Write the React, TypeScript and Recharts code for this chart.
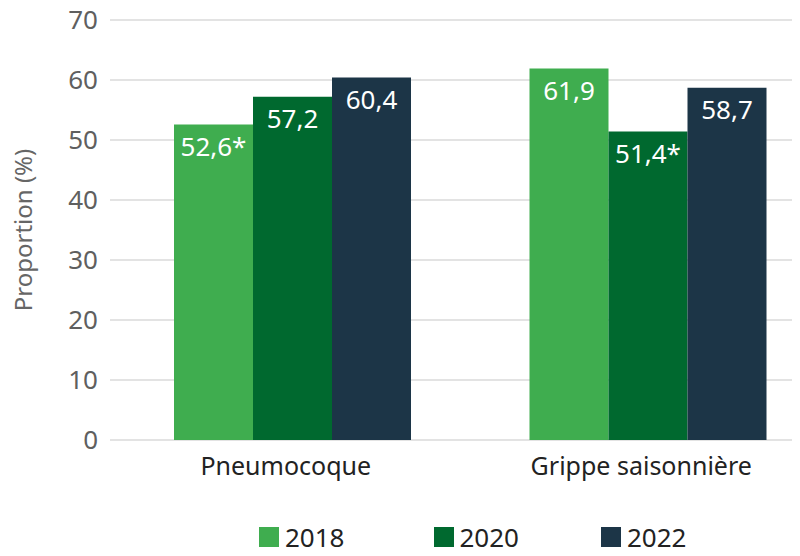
import { BarChart, Bar, XAxis, YAxis, CartesianGrid, Legend, LabelList, Label } from 'recharts'

const categories = ['Pneumocoque', 'Grippe saisonnière']
const years = ['2018', '2020', '2022']
const values2018 = [52.6, 61.9]
const values2020 = [57.2, 51.4]
const values2022 = [60.4, 58.7]
// significance mark (*) shown next to the value
const flags2018 = [true, false]
const flags2020 = [false, true]
const flags2022 = [false, false]
const yTicks = [0, 10, 20, 30, 40, 50, 60, 70]

const colors = ['#3fad4f', '#00692f', '#1c3547']
const font = '"Noto Sans", "Open Sans", sans-serif'

const fmt = (v: number, star: boolean) => v.toFixed(1).replace('.', ',') + (star ? '*' : '')

const chartData = categories.map((name, i) => ({
  name,
  y2018: values2018[i],
  y2020: values2020[i],
  y2022: values2022[i],
  l2018: fmt(values2018[i], flags2018[i]),
  l2020: fmt(values2020[i], flags2020[i]),
  l2022: fmt(values2022[i], flags2022[i]),
}))

function LegendContent({ payload }: any) {
  return (
    <div style={{ display: 'flex', alignItems: 'center', height: 26, fontFamily: font }}>
      {(payload || []).map((entry: any, i: number) => (
        <div key={entry.value} style={{ display: 'flex', alignItems: 'center', marginRight: i === 0 ? 89 : 82 }}>
          <span style={{ width: 20, height: 20, background: entry.color, display: 'inline-block', marginRight: 6 }} />
          <span style={{ fontSize: 26, color: '#222', lineHeight: '26px' }}>{entry.value}</span>
        </div>
      ))}
    </div>
  )
}

export default function App() {
  return (
    <div style={{ margin: -8, width: 800, height: 556, overflow: 'hidden', background: '#fff' }}>
      <BarChart
        width={825}
        height={556}
        data={chartData}
        margin={{ top: 20, right: 0, bottom: 60, left: 0 }}
        barCategoryGap={60}
        barGap={0}
      >
        <CartesianGrid vertical={false} stroke="#e3e3e3" strokeWidth={2} />
        <XAxis
          dataKey="name"
          axisLine={false}
          tickLine={false}
          tickMargin={11}
          padding={{ left: 4, right: 0 }}
          dx={-6}
          tick={{ fill: '#222', fontSize: 25, fontFamily: font }}
        />
        <YAxis
          width={110}
          domain={[0, 70]}
          ticks={yTicks}
          axisLine={false}
          tickLine={false}
          tickMargin={6}
          tick={{ fill: '#5f5f5f', fontSize: 26, fontFamily: font }}
        >
          <Label
            content={() => (
              <text
                transform="translate(32,230) rotate(-90)"
                textAnchor="middle"
                fill="#666"
                fontSize={24}
                fontFamily={font}
              >
                Proportion (%)
              </text>
            )}
          />
        </YAxis>
        <Legend
          content={<LegendContent />}
          wrapperStyle={{ left: 259, top: 524, bottom: 'auto', width: 'auto' }}
        />
        <Bar dataKey="y2018" name={years[0]} fill={colors[0]} isAnimationActive={false}>
          <LabelList dataKey="l2018" position="insideTop" offset={13} fill="#fff" fontSize={26} fontFamily={font} />
        </Bar>
        <Bar dataKey="y2020" name={years[1]} fill={colors[1]} isAnimationActive={false}>
          <LabelList dataKey="l2020" position="insideTop" offset={13} fill="#fff" fontSize={26} fontFamily={font} />
        </Bar>
        <Bar dataKey="y2022" name={years[2]} fill={colors[2]} isAnimationActive={false}>
          <LabelList dataKey="l2022" position="insideTop" offset={13} fill="#fff" fontSize={26} fontFamily={font} />
        </Bar>
      </BarChart>
    </div>
  )
}
